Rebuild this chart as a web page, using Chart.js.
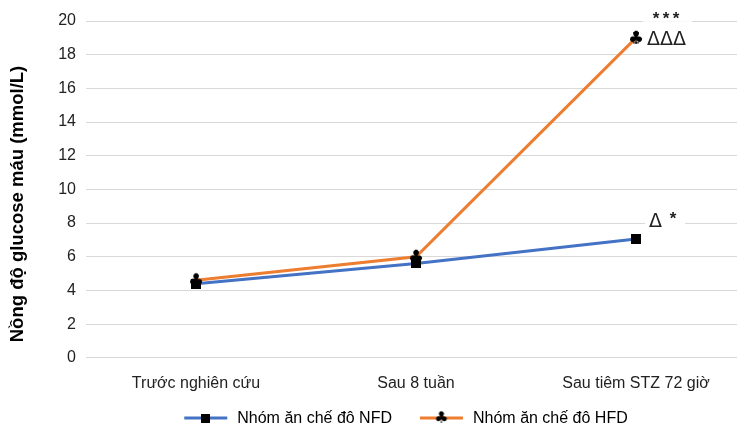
<!DOCTYPE html>
<html>
<head>
<meta charset="utf-8">
<script src="https://cdn.jsdelivr.net/npm/chart.js@4.4.1/dist/chart.umd.min.js"></script>
<style>
  html, body { margin: 0; padding: 0; background: #fff; overflow: hidden; }
  #wrap { width: 757px; height: 425px; }
</style>
</head>
<body>
<div id="wrap"><canvas id="c" width="757" height="425"></canvas></div>
<script>
// Blood glucose by group and time point
const categories = ['Trước nghiên cứu', 'Sau 8 tuần', 'Sau tiêm STZ 72 giờ'];
const nfdLabel = 'Nhóm ăn chế đô NFD';
const hfdLabel = 'Nhóm ăn chế đô HFD';
const nfdValues = [4.4, 5.6, 7.05];
const hfdValues = [4.6, 6.0, 19.0];
const hfdErrors = [0, 0, 0.3];
const yTicks = [0, 2, 4, 6, 8, 10, 12, 14, 16, 18, 20];
const yTitle = 'Nồng độ glucose máu (mmol/L)';
// significance marks next to the last time point
const nfdMarkDelta = 'Δ';
const nfdMarkStar = '*';
const hfdMarkTop = '***';
const hfdMarkSide = 'ΔΔΔ';

const BLUE = '#4472C4';
const ORANGE = '#ED7D31';
const FONT = "'Liberation Sans', Arial, sans-serif";

// club-shaped marker
function clubMarker(size) {
  const cv = document.createElement('canvas');
  cv.width = size; cv.height = size;
  const g = cv.getContext('2d');
  g.fillStyle = '#000';
  g.font = size + "px 'DejaVu Sans'";
  g.textAlign = 'center';
  g.textBaseline = 'middle';
  g.fillText('♣', size / 2, size / 2 + 1);
  return cv;
}
function squareMarker(size) {
  const cv = document.createElement('canvas');
  cv.width = size; cv.height = size;
  const g = cv.getContext('2d');
  g.fillStyle = '#000';
  g.fillRect(0, 0, size, size);
  return cv;
}
const clubImg = clubMarker(18);
const squareImg = squareMarker(10);

const overlay = {
  id: 'overlay',
  afterDatasetsDraw(chart) {
    const ctx = chart.ctx;
    const xs = chart.scales.x, ys = chart.scales.y;
    ctx.save();

    // error bars on the HFD series
    ctx.strokeStyle = '#000';
    ctx.lineWidth = 1;
    hfdValues.forEach((v, i) => {
      const e = hfdErrors[i];
      if (!e) return;
      const x = xs.getPixelForValue(i);
      const y1 = ys.getPixelForValue(v - e), y2 = ys.getPixelForValue(v + e);
      ctx.beginPath();
      ctx.moveTo(x, y1); ctx.lineTo(x, y2);
      ctx.moveTo(x - 3, y1); ctx.lineTo(x + 3, y1);
      ctx.moveTo(x - 3, y2); ctx.lineTo(x + 3, y2);
      ctx.stroke();
    });

    // significance labels
    const last = categories.length - 1;
    const px = xs.getPixelForValue(last);
    const pyH = ys.getPixelForValue(hfdValues[last]);
    const pyN = ys.getPixelForValue(nfdValues[last]);

    ctx.fillStyle = '#fff';
    ctx.fillRect(px + 7, pyH - 30, 49, 14);
    ctx.fillRect(px + 9, pyN - 27, 40, 14);

    ctx.fillStyle = '#222';
    ctx.textBaseline = 'middle';
    ctx.textAlign = 'center';
    ctx.font = "bold 17px " + FONT;
    hfdMarkTop.split('').forEach((s, k) => ctx.fillText(s, px + 20 + k * 10, pyH - 19));
    ctx.font = "19px 'DejaVu Sans'";
    ctx.textAlign = 'left';
    ctx.fillText(hfdMarkSide, px + 11, pyH + 2);
    ctx.fillText(nfdMarkDelta, px + 13, pyN - 17);
    ctx.textAlign = 'center';
    ctx.font = "bold 17px " + FONT;
    ctx.fillText(nfdMarkStar, px + 37, pyN - 20);

    // y axis title
    ctx.save();
    ctx.translate(18, 204);
    ctx.rotate(-Math.PI / 2);
    ctx.textAlign = 'center';
    ctx.textBaseline = 'middle';
    ctx.fillStyle = '#000';
    ctx.font = "bold 18.5px " + FONT;
    ctx.fillText(yTitle, 0, 0);
    ctx.restore();

    // legend: line with marker, then label
    const items = [
      { label: nfdLabel, color: BLUE, img: squareMarker(9) },
      { label: hfdLabel, color: ORANGE, img: clubMarker(16) }
    ];
    ctx.font = "16px " + FONT;
    const lineW = 43, gapText = 10, gapItem = 28;
    let total = 0;
    items.forEach((it, i) => { total += lineW + gapText + ctx.measureText(it.label).width + (i ? gapItem : 0); });
    const mid = xs.getPixelForValue(1);
    let x = mid - total / 2 - 10;
    const ly = 418;
    items.forEach((it, i) => {
      if (i) x += gapItem;
      ctx.strokeStyle = it.color;
      ctx.lineWidth = 3;
      ctx.beginPath(); ctx.moveTo(x, ly); ctx.lineTo(x + lineW, ly); ctx.stroke();
      ctx.drawImage(it.img, x + lineW / 2 - it.img.width / 2, ly - it.img.height / 2);
      x += lineW + gapText;
      ctx.fillStyle = '#000';
      ctx.textAlign = 'left';
      ctx.fillText(it.label, x, ly + 1);
      x += ctx.measureText(it.label).width;
    });
    ctx.restore();
  }
};

new Chart(document.getElementById('c'), {
  type: 'line',
  data: {
    labels: categories,
    datasets: [
      {
        label: nfdLabel, data: nfdValues, borderColor: BLUE, borderWidth: 3,
        pointStyle: squareImg, pointRadius: 5, tension: 0, order: 2
      },
      {
        label: hfdLabel, data: hfdValues, borderColor: ORANGE, borderWidth: 3,
        pointStyle: clubImg, pointRadius: 8, tension: 0, order: 1
      }
    ]
  },
  options: {
    responsive: false,
    animation: false,
    layout: { padding: { top: 21, right: 0, bottom: 16, left: 0 } },
    plugins: { legend: { display: false }, tooltip: { enabled: false } },
    scales: {
      x: {
        offset: true,
        grid: { display: false, drawTicks: false },
        border: { display: false },
        ticks: { color: '#222', font: { family: FONT, size: 16 }, padding: 16, maxRotation: 0, autoSkip: false }
      },
      y: {
        min: 0, max: 20,
        afterBuildTicks(s) { s.ticks = yTicks.map(v => ({ value: v })); },
        grid: { color: '#d9d9d9', lineWidth: 1, drawTicks: false },
        border: { display: false },
        ticks: { color: '#222', font: { family: FONT, size: 16 }, padding: 10 },
        afterFit(s) { s.width = 86; }
      }
    }
  },
  plugins: [overlay]
});
</script>
</body>
</html>
